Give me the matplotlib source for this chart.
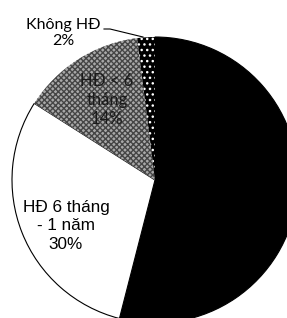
import matplotlib.pyplot as plt

# dữ liệu
labels = ["HĐ > 1 năm", "HĐ 6 tháng\n- 1 năm", "HĐ < 6\ntháng", "Không HĐ"]
values = [54, 30, 14, 2]

W, H = 287, 318
fig = plt.figure(figsize=(W / 100, H / 100), dpi=100)
ax = fig.add_axes([0, 0, 1, 1])
ax.axis('off')

wedges, _ = ax.pie(values, startangle=90, counterclock=False, radius=1,
                   wedgeprops=dict(linewidth=0.8, edgecolor='black'))

# kiểu tô
wedges[0].set_facecolor('black')
wedges[1].set_facecolor('white')
wedges[2].set_facecolor('#a8a8a8')
wedges[2].set_hatch('xxxxxx')
wedges[2].set_edgecolor('#454545')
wedges[2].set_linewidth(0)
wedges[3].set_facecolor('black')
wedges[3].set_hatch('...')
wedges[3].set_edgecolor('white')
wedges[3].set_linewidth(0)

# khung tọa độ: tâm tại (155, 180) px, bán kính 143 px
cx, cy, r = 155, 180, 143
ax.set_xlim((0 - cx) / r, (W - cx) / r)
ax.set_ylim((cy - H) / r, (cy - 0) / r)
ax.set_aspect('equal')

def px(x, y):
    return (x - cx) / r, (cy - y) / r

pct = [f"{v}%" for v in values]

ax.text(*px(66, 226), f"{labels[1]}\n{pct[1]}", ha='center', va='center',
        fontsize=12.3, family='Liberation Sans', linespacing=1.3)
ax.text(*px(107, 100), f"{labels[2]}\n{pct[2]}", ha='center', va='center',
        fontsize=12, family='Lato', color='#1a1a1a', linespacing=1.25)
ax.text(*px(63, 33), f"{labels[3]}\n{pct[3]}", ha='center', va='center',
        fontsize=11.5, family='Lato', linespacing=1.1)
ax.plot(*zip(px(104, 29), px(110, 29), px(143, 37)), color='black', lw=0.8)

plt.savefig('out.png', dpi=100)
